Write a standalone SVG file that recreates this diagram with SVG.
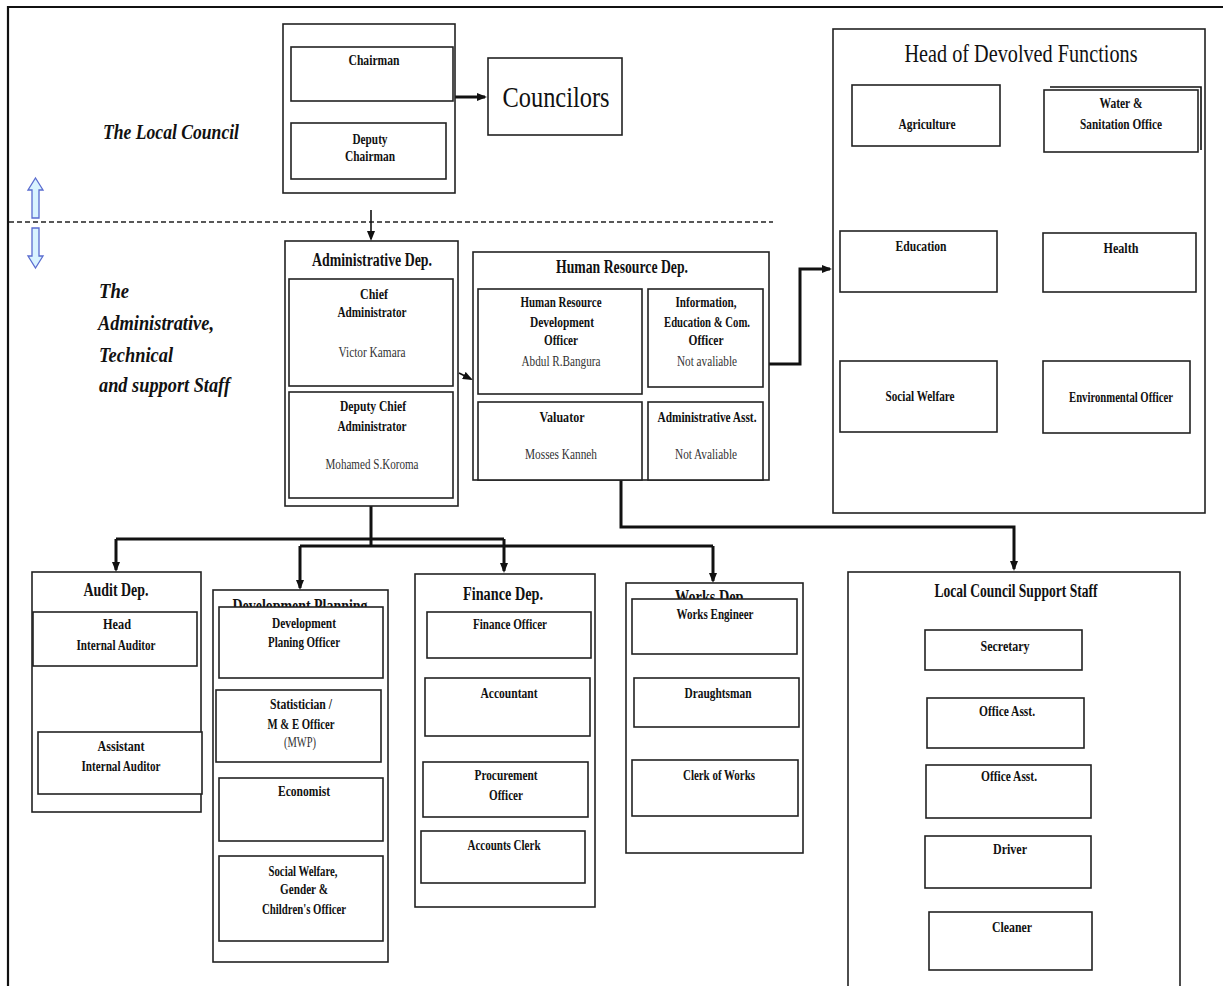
<svg xmlns="http://www.w3.org/2000/svg" width="1223" height="986" viewBox="0 0 1223 986">
  <style>
    .box { fill: #fff; stroke: #222; stroke-width: 1.6; }
    .frame { fill: none; stroke: #111; stroke-width: 2.2; }
    .lbl { font-family: "Liberation Serif", serif; font-weight: bold; font-size: 15px; text-anchor: middle; fill: #111; }
    .nm { font-family: "Liberation Serif", serif; font-weight: normal; font-size: 14px; text-anchor: middle; fill: #333; }
    .hd { font-family: "Liberation Serif", serif; font-weight: bold; font-size: 18px; text-anchor: middle; fill: #111; }
    .big { font-family: "Liberation Serif", serif; font-weight: normal; text-anchor: middle; fill: #111; }
    .it { font-family: "Liberation Serif", serif; font-weight: bold; font-style: italic; font-size: 21px; fill: #111; }
    .wire { fill: none; stroke: #111; stroke-width: 3; }
    .thin { fill: none; stroke: #111; stroke-width: 1.6; }
    .dash { fill: none; stroke: #222; stroke-width: 1.4; stroke-dasharray: 5 3; }
    .hollow { fill: #d9f3ff; stroke: #5a6ccf; stroke-width: 1.3; }
  </style>
  <defs>
    <marker id="head" viewBox="0 0 10 8" markerWidth="10" markerHeight="8" refX="8" refY="4" orient="auto" markerUnits="userSpaceOnUse">
      <path d="M0,0 L10,4 L0,8 z" fill="#111"/>
    </marker>
  </defs>

  <rect width="1223" height="986" fill="#fff"/>
  <!-- page frame -->
  <path class="frame" d="M8,986 V7 H1223"/>

  <!-- section labels -->
  <g id="section-labels">
    <text class="it" x="103" y="139" textLength="136" lengthAdjust="spacingAndGlyphs">The Local Council</text>
    <text class="it" x="99" y="298" textLength="30" lengthAdjust="spacingAndGlyphs">The</text>
    <text class="it" x="98" y="330" textLength="116" lengthAdjust="spacingAndGlyphs">Administrative,</text>
    <text class="it" x="99" y="362" textLength="74" lengthAdjust="spacingAndGlyphs">Technical</text>
    <text class="it" x="99" y="392" textLength="131" lengthAdjust="spacingAndGlyphs">and support Staff</text>
    <!-- boundary between the two tiers -->
    <path class="dash" d="M9,222 H773"/>
    <path class="hollow" d="M35.5,178 L43,190 H39 V218 H32 V190 H28 Z"/>
    <path class="hollow" d="M35.5,268 L43,256 H39 V228 H32 V256 H28 Z"/>
  </g>

  <!-- connectors -->
  <g id="connectors">
    <path class="wire" d="M455,97 H485" marker-end="url(#head)"/>
    <path class="thin" d="M371,210 V239" marker-end="url(#head)"/>
    <path class="thin" d="M459,373 L471,379" marker-end="url(#head)"/>
    <path class="wire" d="M769,364 H800 V269 H830" marker-end="url(#head)"/>
    <path class="wire" d="M371,506 V546"/>
    <path class="wire" d="M116,539 H504"/>
    <path class="wire" d="M116,539 V570" marker-end="url(#head)"/>
    <path class="wire" d="M504,539 V571" marker-end="url(#head)"/>
    <path class="wire" d="M300,546 H713"/>
    <path class="wire" d="M300,546 V588" marker-end="url(#head)"/>
    <path class="wire" d="M713,546 V581" marker-end="url(#head)"/>
    <path class="wire" d="M621,480 V527 H1014 V569" marker-end="url(#head)"/>
  </g>

  <!-- Local council -->
  <g id="local-council">
    <rect class="box" x="283" y="24" width="172" height="169"/>
    <rect class="box" x="291" y="47" width="162" height="54"/>
    <text class="lbl" x="374" y="65" textLength="51" lengthAdjust="spacingAndGlyphs">Chairman</text>
    <rect class="box" x="291" y="123" width="155" height="56"/>
    <text class="lbl" x="370" y="144" textLength="35" lengthAdjust="spacingAndGlyphs">Deputy</text>
    <text class="lbl" x="370" y="161" textLength="50" lengthAdjust="spacingAndGlyphs">Chairman</text>
  </g>

  <g id="councilors">
    <rect class="box" x="488" y="58" width="134" height="77"/>
    <text class="big" x="556" y="107" font-size="30" textLength="107" lengthAdjust="spacingAndGlyphs">Councilors</text>
  </g>

  <!-- Devolved functions -->
  <g id="devolved-functions">
    <rect class="box" x="833" y="29" width="372" height="484"/>
    <text class="big" x="1021" y="62" font-size="25" textLength="233" lengthAdjust="spacingAndGlyphs">Head of Devolved Functions</text>
    <rect class="box" x="852" y="85" width="148" height="61"/>
    <text class="lbl" x="927" y="129" textLength="57" lengthAdjust="spacingAndGlyphs">Agriculture</text>
    <path class="thin" d="M1050,87 H1201 V150"/>
    <rect class="box" x="1044" y="90" width="154" height="62"/>
    <text class="lbl" x="1121" y="108" textLength="43" lengthAdjust="spacingAndGlyphs">Water &amp;</text>
    <text class="lbl" x="1121" y="129" textLength="82" lengthAdjust="spacingAndGlyphs">Sanitation Office</text>
    <rect class="box" x="840" y="231" width="157" height="61"/>
    <text class="lbl" x="921" y="251" textLength="51" lengthAdjust="spacingAndGlyphs">Education</text>
    <rect class="box" x="1043" y="233" width="153" height="59"/>
    <text class="lbl" x="1121" y="253" textLength="35" lengthAdjust="spacingAndGlyphs">Health</text>
    <rect class="box" x="840" y="361" width="157" height="71"/>
    <text class="lbl" x="920" y="401" textLength="69" lengthAdjust="spacingAndGlyphs">Social Welfare</text>
    <rect class="box" x="1043" y="361" width="147" height="72"/>
    <text class="lbl" x="1121" y="402" textLength="104" lengthAdjust="spacingAndGlyphs">Environmental Officer</text>
  </g>

  <!-- Administrative department -->
  <g id="administrative-dep">
    <rect class="box" x="285" y="241" width="173" height="265"/>
    <text class="hd" x="372" y="266" font-size="17" textLength="120" lengthAdjust="spacingAndGlyphs">Administrative Dep.</text>
    <rect class="box" x="289" y="279" width="164" height="107"/>
    <text class="lbl" x="374" y="299" textLength="28" lengthAdjust="spacingAndGlyphs">Chief</text>
    <text class="lbl" x="372" y="317" textLength="69" lengthAdjust="spacingAndGlyphs">Administrator</text>
    <text class="nm" x="372" y="357" textLength="67" lengthAdjust="spacingAndGlyphs">Victor Kamara</text>
    <rect class="box" x="289" y="392" width="164" height="106"/>
    <text class="lbl" x="373" y="411" textLength="66" lengthAdjust="spacingAndGlyphs">Deputy Chief</text>
    <text class="lbl" x="372" y="431" textLength="69" lengthAdjust="spacingAndGlyphs">Administrator</text>
    <text class="nm" x="372" y="469" textLength="93" lengthAdjust="spacingAndGlyphs">Mohamed  S.Koroma</text>
  </g>

  <!-- Human resource department -->
  <g id="human-resource-dep">
    <rect class="box" x="473" y="252" width="296" height="228"/>
    <text class="hd" x="622" y="273" font-size="17" textLength="132" lengthAdjust="spacingAndGlyphs">Human Resource Dep.</text>
    <rect class="box" x="478" y="289" width="164" height="105"/>
    <text class="lbl" x="561" y="307" textLength="81" lengthAdjust="spacingAndGlyphs">Human Resource</text>
    <text class="lbl" x="562" y="327" textLength="64" lengthAdjust="spacingAndGlyphs">Development</text>
    <text class="lbl" x="561" y="345" textLength="34" lengthAdjust="spacingAndGlyphs">Officer</text>
    <text class="nm" x="561" y="366" textLength="79" lengthAdjust="spacingAndGlyphs">Abdul R.Bangura</text>
    <rect class="box" x="648" y="289" width="115" height="98"/>
    <text class="lbl" x="706" y="307" textLength="61" lengthAdjust="spacingAndGlyphs">Information,</text>
    <text class="lbl" x="707" y="327" textLength="86" lengthAdjust="spacingAndGlyphs">Education &amp; Com.</text>
    <text class="lbl" x="706" y="345" textLength="35" lengthAdjust="spacingAndGlyphs">Officer</text>
    <text class="nm" x="707" y="366" textLength="60" lengthAdjust="spacingAndGlyphs">Not avaliable</text>
    <rect class="box" x="478" y="402" width="164" height="78"/>
    <text class="lbl" x="562" y="422" textLength="45" lengthAdjust="spacingAndGlyphs">Valuator</text>
    <text class="nm" x="561" y="459" textLength="72" lengthAdjust="spacingAndGlyphs">Mosses Kanneh</text>
    <rect class="box" x="648" y="402" width="115" height="78"/>
    <text class="lbl" x="707" y="422" textLength="99" lengthAdjust="spacingAndGlyphs">Administrative Asst.</text>
    <text class="nm" x="706" y="459" textLength="62" lengthAdjust="spacingAndGlyphs">Not Avaliable</text>
  </g>

  <!-- Audit department -->
  <g id="audit-dep">
    <rect class="box" x="32" y="572" width="169" height="240"/>
    <text class="hd" x="116" y="596" textLength="65" lengthAdjust="spacingAndGlyphs">Audit Dep.</text>
    <rect class="box" x="33" y="612" width="164" height="54"/>
    <text class="lbl" x="117" y="629" textLength="28" lengthAdjust="spacingAndGlyphs">Head</text>
    <text class="lbl" x="116" y="650" textLength="79" lengthAdjust="spacingAndGlyphs">Internal Auditor</text>
    <rect class="box" x="38" y="732" width="164" height="62"/>
    <text class="lbl" x="121" y="751" textLength="47" lengthAdjust="spacingAndGlyphs">Assistant</text>
    <text class="lbl" x="121" y="771" textLength="79" lengthAdjust="spacingAndGlyphs">Internal Auditor</text>
  </g>

  <!-- Development planning: the title sits partly under the first post box -->
  <g id="development-planning">
    <rect class="box" x="213" y="590" width="175" height="372"/>
    <text class="hd" x="300" y="612" font-size="17" textLength="135" lengthAdjust="spacingAndGlyphs">Development Planning</text>
    <rect class="box" x="219" y="607" width="164" height="71"/>
    <text class="lbl" x="304" y="628" textLength="64" lengthAdjust="spacingAndGlyphs">Development</text>
    <text class="lbl" x="304" y="647" textLength="72" lengthAdjust="spacingAndGlyphs">Planing Officer</text>
    <rect class="box" x="216" y="690" width="165" height="72"/>
    <text class="lbl" x="301" y="709" textLength="62" lengthAdjust="spacingAndGlyphs">Statistician /</text>
    <text class="lbl" x="301" y="729" textLength="67" lengthAdjust="spacingAndGlyphs">M &amp; E Officer</text>
    <text class="nm" x="300" y="747" fill="#555" textLength="32" lengthAdjust="spacingAndGlyphs">(MWP)</text>
    <rect class="box" x="219" y="778" width="164" height="63"/>
    <text class="lbl" x="304" y="796" textLength="52" lengthAdjust="spacingAndGlyphs">Economist</text>
    <rect class="box" x="219" y="856" width="164" height="85"/>
    <text class="lbl" x="303" y="876" textLength="69" lengthAdjust="spacingAndGlyphs">Social Welfare,</text>
    <text class="lbl" x="304" y="894" textLength="48" lengthAdjust="spacingAndGlyphs">Gender &amp;</text>
    <text class="lbl" x="304" y="914" textLength="84" lengthAdjust="spacingAndGlyphs">Children's Officer</text>
  </g>

  <!-- Finance department -->
  <g id="finance-dep">
    <rect class="box" x="415" y="574" width="180" height="333"/>
    <text class="hd" x="503" y="600" textLength="80" lengthAdjust="spacingAndGlyphs">Finance Dep.</text>
    <rect class="box" x="427" y="612" width="164" height="46"/>
    <text class="lbl" x="510" y="629" textLength="74" lengthAdjust="spacingAndGlyphs">Finance Officer</text>
    <rect class="box" x="425" y="678" width="165" height="58"/>
    <text class="lbl" x="509" y="698" textLength="57" lengthAdjust="spacingAndGlyphs">Accountant</text>
    <rect class="box" x="423" y="762" width="165" height="55"/>
    <text class="lbl" x="506" y="780" textLength="63" lengthAdjust="spacingAndGlyphs">Procurement</text>
    <text class="lbl" x="506" y="800" textLength="34" lengthAdjust="spacingAndGlyphs">Officer</text>
    <rect class="box" x="421" y="831" width="164" height="52"/>
    <text class="lbl" x="504" y="850" textLength="73" lengthAdjust="spacingAndGlyphs">Accounts Clerk</text>
  </g>

  <!-- Works department: the title sits partly under the first post box -->
  <g id="works-dep">
    <rect class="box" x="626" y="583" width="177" height="270"/>
    <text class="hd" x="711" y="603" font-size="16" textLength="72" lengthAdjust="spacingAndGlyphs">Works Dep.</text>
    <rect class="box" x="632" y="599" width="165" height="55"/>
    <text class="lbl" x="715" y="619" textLength="77" lengthAdjust="spacingAndGlyphs">Works Engineer</text>
    <rect class="box" x="634" y="678" width="165" height="49"/>
    <text class="lbl" x="718" y="698" textLength="67" lengthAdjust="spacingAndGlyphs">Draughtsman</text>
    <rect class="box" x="632" y="760" width="166" height="56"/>
    <text class="lbl" x="719" y="780" textLength="72" lengthAdjust="spacingAndGlyphs">Clerk of Works</text>
  </g>

  <!-- Local council support staff -->
  <g id="support-staff">
    <rect class="box" x="848" y="572" width="332" height="420"/>
    <text class="hd" x="1016" y="597" textLength="163" lengthAdjust="spacingAndGlyphs">Local Council Support Staff</text>
    <rect class="box" x="925" y="630" width="157" height="40"/>
    <text class="lbl" x="1005" y="651" textLength="49" lengthAdjust="spacingAndGlyphs">Secretary</text>
    <rect class="box" x="927" y="698" width="157" height="50"/>
    <text class="lbl" x="1007" y="716" textLength="56" lengthAdjust="spacingAndGlyphs">Office Asst.</text>
    <rect class="box" x="926" y="765" width="165" height="53"/>
    <text class="lbl" x="1009" y="781" textLength="56" lengthAdjust="spacingAndGlyphs">Office Asst.</text>
    <rect class="box" x="925" y="836" width="166" height="52"/>
    <text class="lbl" x="1010" y="854" textLength="34" lengthAdjust="spacingAndGlyphs">Driver</text>
    <rect class="box" x="929" y="912" width="163" height="58"/>
    <text class="lbl" x="1012" y="932" textLength="40" lengthAdjust="spacingAndGlyphs">Cleaner</text>
  </g>
</svg>
